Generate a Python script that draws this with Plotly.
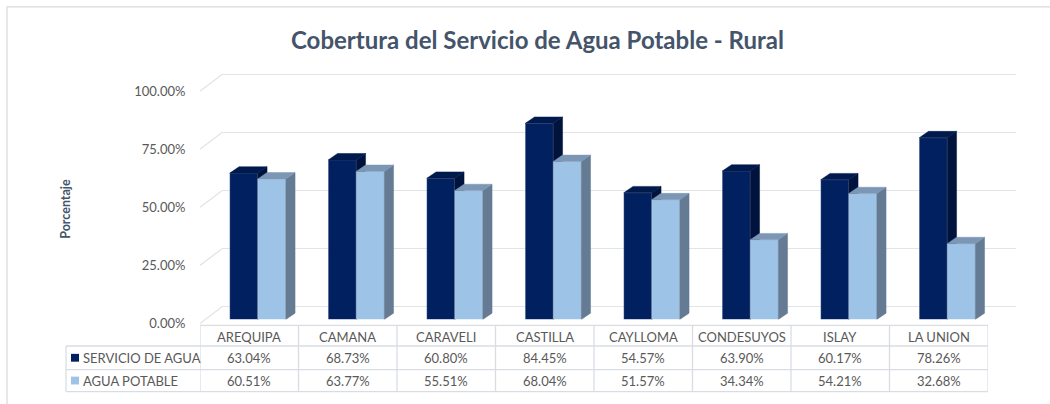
import plotly.graph_objects as go

# ---------------- data ----------------
categories = ["AREQUIPA", "CAMANA", "CARAVELI", "CASTILLA", "CAYLLOMA", "CONDESUYOS", "ISLAY", "LA UNION"]
servicio_agua = [63.04, 68.73, 60.80, 84.45, 54.57, 63.90, 60.17, 78.26]
agua_potable = [60.51, 63.77, 55.51, 68.04, 51.57, 34.34, 54.21, 32.68]
series_names = ["SERVICIO DE AGUA", "AGUA POTABLE"]
y_ticks = [0, 25, 50, 75, 100]
y_tick_labels = [f"{t:.2f}%" for t in y_ticks]
title = "Cobertura del Servicio de Agua Potable - Rural"
y_title = "Porcentaje"

# ---------------- geometry helpers ----------------
W, H = 1050, 404
FONT = "Lato"
TXT = "#595959"
GRID = "#E1E4EA"
TABLE = "#D9DDE3"

def fx(px):
    return px / W

def fy(py):
    return 1 - py / H

PPV = 2.37            # pixels per percentage point
X0, X1 = 200, 988     # front floor / table span
COLW = (X1 - X0) / len(categories)
DX = 9.3 / COLW       # depth offset (category units)
DY = 6.5 / PPV        # depth offset (value units)
BW = 28 / COLW        # bar width
OFF_D = -19.5 / COLW
OFF_L = 8.5 / COLW

FRONT0 = 330          # pixel of 0% at front edge (labels)
BACK0 = 313           # pixel of 0% on back wall
BAR0 = 326            # pixel of 0% at bar front face
TOP = 55

fig = go.Figure()

fig.add_trace(go.Scatter(x=[0], y=[0], mode="markers", marker=dict(opacity=0),
                         showlegend=False, hoverinfo="skip", xaxis="x", yaxis="y"))
fig.add_trace(go.Scatter(x=[0], y=[0], mode="markers", marker=dict(opacity=0),
                         showlegend=False, hoverinfo="skip", xaxis="x2", yaxis="y2"))

dark = dict(front="#002060", top="#001A4E", side="#00133D")
light = dict(front="#9DC3E6", top="#7C97B5", side="#657B94")

def add_series(values, off, col, xa, ya, name):
    xs = list(range(len(values)))
    fig.add_trace(go.Bar(x=xs, y=values, width=BW, offset=off, name=name,
                         marker=dict(color=col["front"], line=dict(width=0.6, color="rgba(255,255,255,0.35)")),
                         showlegend=False, xaxis=xa, yaxis=ya))
    tx, ty, sx, sy = [], [], [], []
    for i, v in enumerate(values):
        L = i + off
        R = L + BW
        tx += [L, R, R + DX, L + DX, L, None]
        ty += [v, v, v + DY, v + DY, v, None]
        sx += [R, R, R + DX, R + DX, R, None]
        sy += [0, v, v + DY, DY, 0, None]
    fig.add_trace(go.Scatter(x=sx, y=sy, mode="lines", fill="toself", fillcolor=col["side"],
                             line=dict(width=0.5, color=col["side"]), showlegend=False,
                             hoverinfo="skip", xaxis=xa, yaxis=ya))
    fig.add_trace(go.Scatter(x=tx, y=ty, mode="lines", fill="toself", fillcolor=col["top"],
                             line=dict(width=0.5, color=col["top"]), showlegend=False,
                             hoverinfo="skip", xaxis=xa, yaxis=ya))

add_series(servicio_agua, OFF_D, dark, "x3", "y3", series_names[0])
add_series(agua_potable, OFF_L, light, "x4", "y4", series_names[1])

n = len(categories)
bar_range = [-0.5, n - 0.5]
bar_yrange = [0, (BAR0 - TOP) / PPV]

layout = dict(
    width=W, height=H,
    margin=dict(l=0, r=0, t=0, b=0),
    paper_bgcolor="white", plot_bgcolor="rgba(0,0,0,0)",
    font=dict(family=FONT, color=TXT),
    showlegend=False,
    barmode="overlay",
    xaxis=dict(domain=[fx(X0), fx(X1)], range=[0, 1], visible=False),
    yaxis=dict(domain=[fy(FRONT0), fy(TOP)], range=[0, (FRONT0 - TOP) / PPV],
               tickvals=y_ticks, ticktext=y_tick_labels, showgrid=False, zeroline=False,
               showline=False, ticks="outside", ticklen=11, tickcolor="rgba(0,0,0,0)",
               tickfont=dict(size=13, color=TXT, family=FONT), anchor="x"),
    xaxis2=dict(domain=[fx(222), fx(1016)], range=[0, 1], visible=False, anchor="y2"),
    yaxis2=dict(domain=[fy(BACK0 + 2 * PPV), fy(TOP)], range=[-2, (BACK0 - TOP) / PPV],
                tickvals=y_ticks, showgrid=True, gridcolor=GRID, gridwidth=1.3,
                showticklabels=False, zeroline=False, showline=False, ticks="", anchor="x2"),
    xaxis3=dict(domain=[fx(X0), fx(X1)], range=bar_range, visible=False, anchor="y3"),
    yaxis3=dict(domain=[fy(BAR0), fy(TOP)], range=bar_yrange, visible=False, anchor="x3"),
    xaxis4=dict(range=bar_range, visible=False, overlaying="x3", anchor="y4"),
    yaxis4=dict(range=bar_yrange, visible=False, overlaying="y3", anchor="x4"),
)
fig.update_layout(**layout)

shapes = []
# outer frame
shapes.append(dict(type="rect", xref="paper", yref="paper", x0=fx(7), x1=fx(1070),
                   y0=fy(7), y1=fy(430), line=dict(color="#D9D9D9", width=1.2), layer="below"))
# left wall diagonals
for t in y_ticks:
    shapes.append(dict(type="line", xref="paper", yref="paper",
                       x0=fx(200), y0=fy(FRONT0 - PPV * t), x1=fx(222), y1=fy(BACK0 - PPV * t),
                       line=dict(color=GRID, width=1.3), layer="below"))

# data table grid
r_top, r1, r2, r_bot = 332, 353, 377, 399.5
LEG_X = 66
for yy, xl in [(r_top, None), (r1, LEG_X), (r2, LEG_X), (r_bot, LEG_X)]:
    if xl is None:
        shapes.append(dict(type="line", xref="x3", yref="paper", x0=-0.5, x1=n - 0.5,
                           y0=fy(yy), y1=fy(yy), line=dict(color=TABLE, width=1.3)))
    else:
        shapes.append(dict(type="line", xref="paper", yref="paper", x0=fx(xl), x1=fx(X1),
                           y0=fy(yy), y1=fy(yy), line=dict(color=TABLE, width=1.3)))
for i in range(n + 1):
    shapes.append(dict(type="line", xref="x3", yref="paper", x0=i - 0.5, x1=i - 0.5,
                       y0=fy(r_top), y1=fy(r_bot), line=dict(color=TABLE, width=1.3)))
shapes.append(dict(type="line", xref="paper", yref="paper", x0=fx(LEG_X), x1=fx(LEG_X),
                   y0=fy(r1), y1=fy(r_bot), line=dict(color=TABLE, width=1.3)))
# legend keys
for yc, col in [((r1 + r2) / 2, dark["front"]), ((r2 + r_bot) / 2, light["front"])]:
    shapes.append(dict(type="rect", xref="paper", yref="paper", x0=fx(71), x1=fx(79),
                       y0=fy(yc + 4), y1=fy(yc - 4), fillcolor=col, line=dict(width=0)))

ann = []
ann.append(dict(text=f"<b>{title}</b>", xref="paper", yref="paper", x=fx(537), y=fy(40),
                showarrow=False, font=dict(size=24, color="#44546A", family=FONT),
                xanchor="center", yanchor="middle"))
ann.append(dict(text=f"<b>{y_title}</b>", xref="paper", yref="paper", x=fx(66), y=fy(213),
                showarrow=False, textangle=-90, font=dict(size=12.5, color="#44546A", family=FONT),
                xanchor="center", yanchor="middle"))
tfont = dict(size=13, color=TXT, family=FONT)
for i, c in enumerate(categories):
    ann.append(dict(text=c, xref="x3", yref="paper", x=i, y=fy((r_top + r1) / 2 + 1),
                    showarrow=False, font=tfont, xanchor="center", yanchor="middle"))
    ann.append(dict(text=f"{servicio_agua[i]:.2f}%", xref="x3", yref="paper", x=i,
                    y=fy((r1 + r2) / 2), showarrow=False, font=tfont,
                    xanchor="center", yanchor="middle"))
    ann.append(dict(text=f"{agua_potable[i]:.2f}%", xref="x3", yref="paper", x=i,
                    y=fy((r2 + r_bot) / 2), showarrow=False, font=tfont,
                    xanchor="center", yanchor="middle"))
for yc, nm in [((r1 + r2) / 2, series_names[0]), ((r2 + r_bot) / 2, series_names[1])]:
    ann.append(dict(text=nm, xref="paper", yref="paper", x=fx(81), y=fy(yc), xanchor="left",
                    yanchor="middle", showarrow=False, font=tfont))

fig.update_layout(shapes=shapes, annotations=ann)
fig.write_html("out.html", config=dict(displayModeBar=False),
               post_script="document.body.style.margin='0';document.body.style.padding='0';"
                           "document.documentElement.style.overflow='hidden';")
